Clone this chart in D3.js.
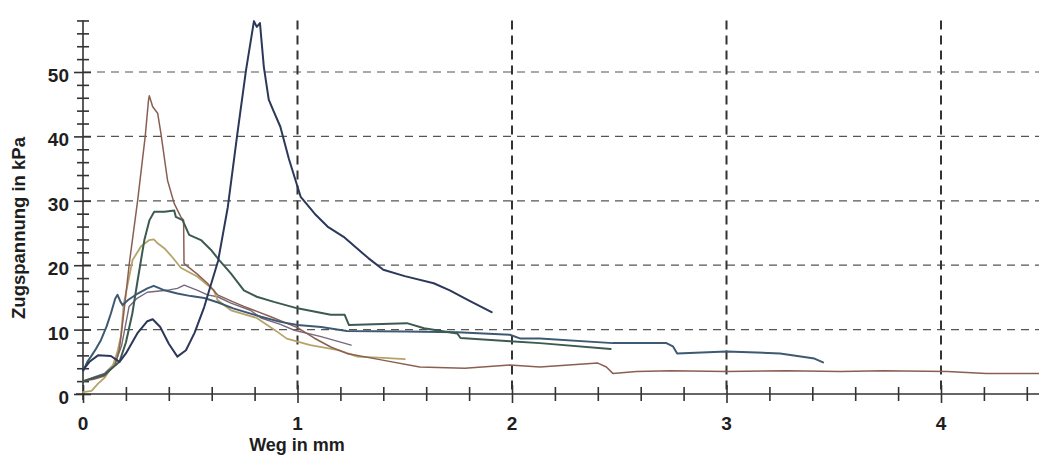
<!DOCTYPE html>
<html>
<head>
<meta charset="utf-8">
<script src="https://cdn.jsdelivr.net/npm/d3@7"></script>
<style>
	body { margin: 0; background: #fff; }
	svg text { font-family: "Liberation Sans", Arial, sans-serif; fill: #1e1e1e; }
	.grid-h { stroke: #555; stroke-width: 1.2; stroke-dasharray: 8,6; }
	.grid-v { stroke: #333; stroke-width: 2; stroke-dasharray: 9,6; }
	.curve { fill: none; stroke-linejoin: round; stroke-linecap: round; }
</style>
</head>
<body>
<svg id="chart" width="1039" height="455"></svg>
<script>

// Weg in mm / Zugspannung in kPa
var navy = [[0,3.7],[0.03,5],[0.07,6],[0.13,5.9],[0.17,5.0],[0.2,6.3],[0.255,9.5],[0.3,11.3],[0.325,11.6],
	[0.36,10.4],[0.4,7.8],[0.44,5.8],[0.48,6.8],[0.52,9.5],[0.565,13.5],[0.63,20.7],[0.675,29],[0.72,40.5],
	[0.76,50.3],[0.797,57.9],[0.81,57],[0.825,57.6],[0.843,50.8],[0.866,45.7],[0.885,44.2],[0.92,41.5],
	[0.96,36.5],[1.015,30.6],[1.08,28],[1.14,26],[1.215,24.4],[1.33,21.1],[1.4,19.3],[1.5,18.3],[1.635,17.2],
	[1.71,16.1],[1.8,14.5],[1.905,12.7]];

var brown = [[0,2.0],[0.05,2.3],[0.1,2.8],[0.15,4.5],[0.17,7],[0.19,12.5],[0.216,20.3],[0.255,30.1],[0.29,40],
	[0.305,45.5],[0.309,46.3],[0.325,44.6],[0.348,43.6],[0.363,40.5],[0.394,33.2],[0.425,29.6],[0.456,27.5],
	[0.469,27],[0.471,20.3],[0.48,20],[0.53,18.7],[0.58,17.2],[0.627,15.4],[0.7,14.3],[0.75,13.6],[0.875,12],
	[1.0,10.3],[1.077,8.7],[1.155,7.3],[1.23,6.3],[1.39,5.3],[1.57,4.2],[1.78,4.0],[1.99,4.5],[2.13,4.2],
	[2.4,4.8],[2.44,4.2],[2.47,3.2],[2.58,3.5],[2.74,3.6],[3.0,3.5],[3.28,3.6],[3.53,3.5],[3.73,3.6],
	[4.03,3.5],[4.21,3.2],[4.46,3.2]];

var green = [[0,2],[0.1,3],[0.17,5],[0.2,8],[0.23,12.5],[0.255,17.7],[0.286,23.9],[0.31,27],[0.332,28.3],
	[0.38,28.3],[0.425,28.5],[0.433,27.5],[0.464,27],[0.495,24.7],[0.55,23.9],[0.596,22.4],[0.635,20.8],
	[0.69,18.7],[0.75,16.1],[0.81,15.1],[0.89,14.3],[1.0,13.3],[1.155,12.3],[1.22,12.3],[1.24,10.7],
	[1.51,11],[1.59,10.2],[1.745,9.4],[1.76,8.7],[1.99,8.2],[2.13,7.9],[2.46,7.0]];

var khaki = [[0,0.3],[0.04,0.5],[0.07,1.6],[0.1,2.5],[0.14,4.5],[0.16,6.5],[0.177,9],[0.19,14],[0.231,20.8],
	[0.27,22.9],[0.309,23.9],[0.33,24.0],[0.348,23.4],[0.38,22.6],[0.41,21.5],[0.456,19.6],[0.534,18.2],
	[0.61,16.1],[0.627,14.6],[0.69,13],[0.81,11.8],[0.9,9.8],[0.95,8.6],[1.06,7.6],[1.19,6.8],[1.28,5.8],
	[1.4,5.6],[1.5,5.4]];

var steel = [[0,3.5],[0.02,5.0],[0.037,5.8],[0.06,7],[0.084,8.4],[0.11,10.5],[0.13,12.5],[0.15,14.8],
	[0.161,15.4],[0.175,14.3],[0.185,13.8],[0.21,14.6],[0.255,15.6],[0.3,16.4],[0.33,16.8],[0.38,16.1],
	[0.44,15.6],[0.503,15.2],[0.565,14.9],[0.63,14.2],[0.7,13.3],[0.83,12],[0.92,11.2],[1.0,10.7],
	[1.11,10.4],[1.23,9.8],[1.5,9.7],[1.745,9.6],[1.99,9.2],[2.04,8.6],[2.13,8.6],[2.47,7.9],[2.72,7.9],
	[2.75,7.4],[2.77,6.3],[3.0,6.6],[3.25,6.3],[3.41,5.5],[3.45,4.9]];

var mauve = [[0,2],[0.05,2.6],[0.1,3.2],[0.15,4.8],[0.18,7.5],[0.2,11],[0.215,13.6],[0.25,14.8],[0.3,15.8],
	[0.39,16.1],[0.44,16.4],[0.472,16.9],[0.534,16.1],[0.58,15.4],[0.627,15.1],[0.69,14.1],[0.78,13],
	[0.83,11.8],[0.92,10.8],[0.985,9.9],[1.11,8.9],[1.25,7.6]];

var curves = [
	{ name: 'mauve', values: mauve, color: '#76687c', width: 1.4 },
	{ name: 'khaki', values: khaki, color: '#b5a469', width: 1.8 },
	{ name: 'brown', values: brown, color: '#8a5f52', width: 1.5 },
	{ name: 'steel', values: steel, color: '#3d5a72', width: 2 },
	{ name: 'green', values: green, color: '#3c5a50', width: 2 },
	{ name: 'navy', values: navy, color: '#2b3859', width: 2 }
];

var yTicks = [0, 10, 20, 30, 40, 50];
var xTicks = [0, 1, 2, 3, 4];

var svg = d3.select('#chart');

var x = d3.scaleLinear().domain([0, 4.46]).range([83, 83 + 4.46*214.5]);
var y = d3.scaleLinear().domain([0, 58]).range([394, 394 - 58*6.44]);

// grid
svg.append('g').selectAll('line')
	.data(yTicks.slice(1)).enter()
	.append('line')
		.attr('class', 'grid-h')
		.attr('x1', x(0)).attr('x2', 1039)
		.attr('y1', function(d) { return y(d); })
		.attr('y2', function(d) { return y(d); });

svg.append('g').selectAll('line')
	.data(xTicks.slice(1)).enter()
	.append('line')
		.attr('class', 'grid-v')
		.attr('x1', function(d) { return x(d); })
		.attr('x2', function(d) { return x(d); })
		.attr('y1', y(58)).attr('y2', y(0));

// axes, ticks crossing the line both ways
var yAxis = d3.axisLeft(y).tickValues(d3.range(0, 58.1, 2)).tickSize(6).tickFormat('');
var gy = svg.append('g').attr('transform', 'translate(' + x(0) + ',0)').call(yAxis);
gy.select('.domain').remove();
gy.selectAll('.tick line')
	.attr('x1', function(d) { return d % 10 == 0 ? -9 : -6; })
	.attr('x2', function(d) { return d % 10 == 0 ? 8 : 6; })
	.attr('stroke', '#333').attr('stroke-width', 1.6);
gy.append('line')
	.attr('x1', 0).attr('x2', 0)
	.attr('y1', y(58)).attr('y2', y(0) + 6)
	.attr('stroke', '#333').attr('stroke-width', 1.6);

var xAxis = d3.axisBottom(x).tickValues(d3.range(0, 4.45, 0.2)).tickSize(6).tickFormat('');
var gx = svg.append('g').attr('transform', 'translate(0,' + y(0) + ')').call(xAxis);
gx.select('.domain').remove();
gx.selectAll('.tick line')
	.attr('y1', function(d) { return Math.abs(d - Math.round(d)) < 0.01 ? -9 : -7; })
	.attr('y2', function(d) { return Math.abs(d - Math.round(d)) < 0.01 ? 9 : 7; })
	.attr('stroke', '#333').attr('stroke-width', 1.6);
gx.append('line')
	.attr('x1', x(0) - 7).attr('x2', 1039)
	.attr('y1', 0).attr('y2', 0)
	.attr('stroke', '#333').attr('stroke-width', 1.6);

// tick labels
svg.append('g').selectAll('text')
	.data(yTicks).enter()
	.append('text')
		.attr('text-anchor', 'end')
		.attr('x', 69)
		.attr('y', function(d) { return y(d) + 10; })
		.attr('font-size', 19)
		.attr('font-weight', 'bold')
		.text(function(d) { return d; });

svg.append('g').selectAll('text')
	.data(xTicks).enter()
	.append('text')
		.attr('text-anchor', 'middle')
		.attr('x', function(d) { return x(d); })
		.attr('y', 430)
		.attr('font-size', 19)
		.attr('font-weight', 'bold')
		.text(function(d) { return d; });

svg.append('text')
	.attr('text-anchor', 'middle')
	.attr('x', 297).attr('y', 451)
	.attr('font-size', 18)
	.attr('font-weight', 'bold')
	.text('Weg in mm');

svg.append('text')
	.attr('text-anchor', 'middle')
	.attr('transform', 'translate(25,228) rotate(-90)')
	.attr('font-size', 18.5)
	.attr('font-weight', 'bold')
	.text('Zugspannung in kPa');

// curves
var line = d3.line()
	.x(function(d) { return x(d[0]); })
	.y(function(d) { return y(d[1]); });

svg.append('g').selectAll('path')
	.data(curves).enter()
	.append('path')
		.attr('class', function(d) { return 'curve ' + d.name; })
		.attr('stroke', function(d) { return d.color; })
		.attr('stroke-width', function(d) { return d.width; })
		.attr('d', function(d) { return line(d.values); });

</script>
</body>
</html>
